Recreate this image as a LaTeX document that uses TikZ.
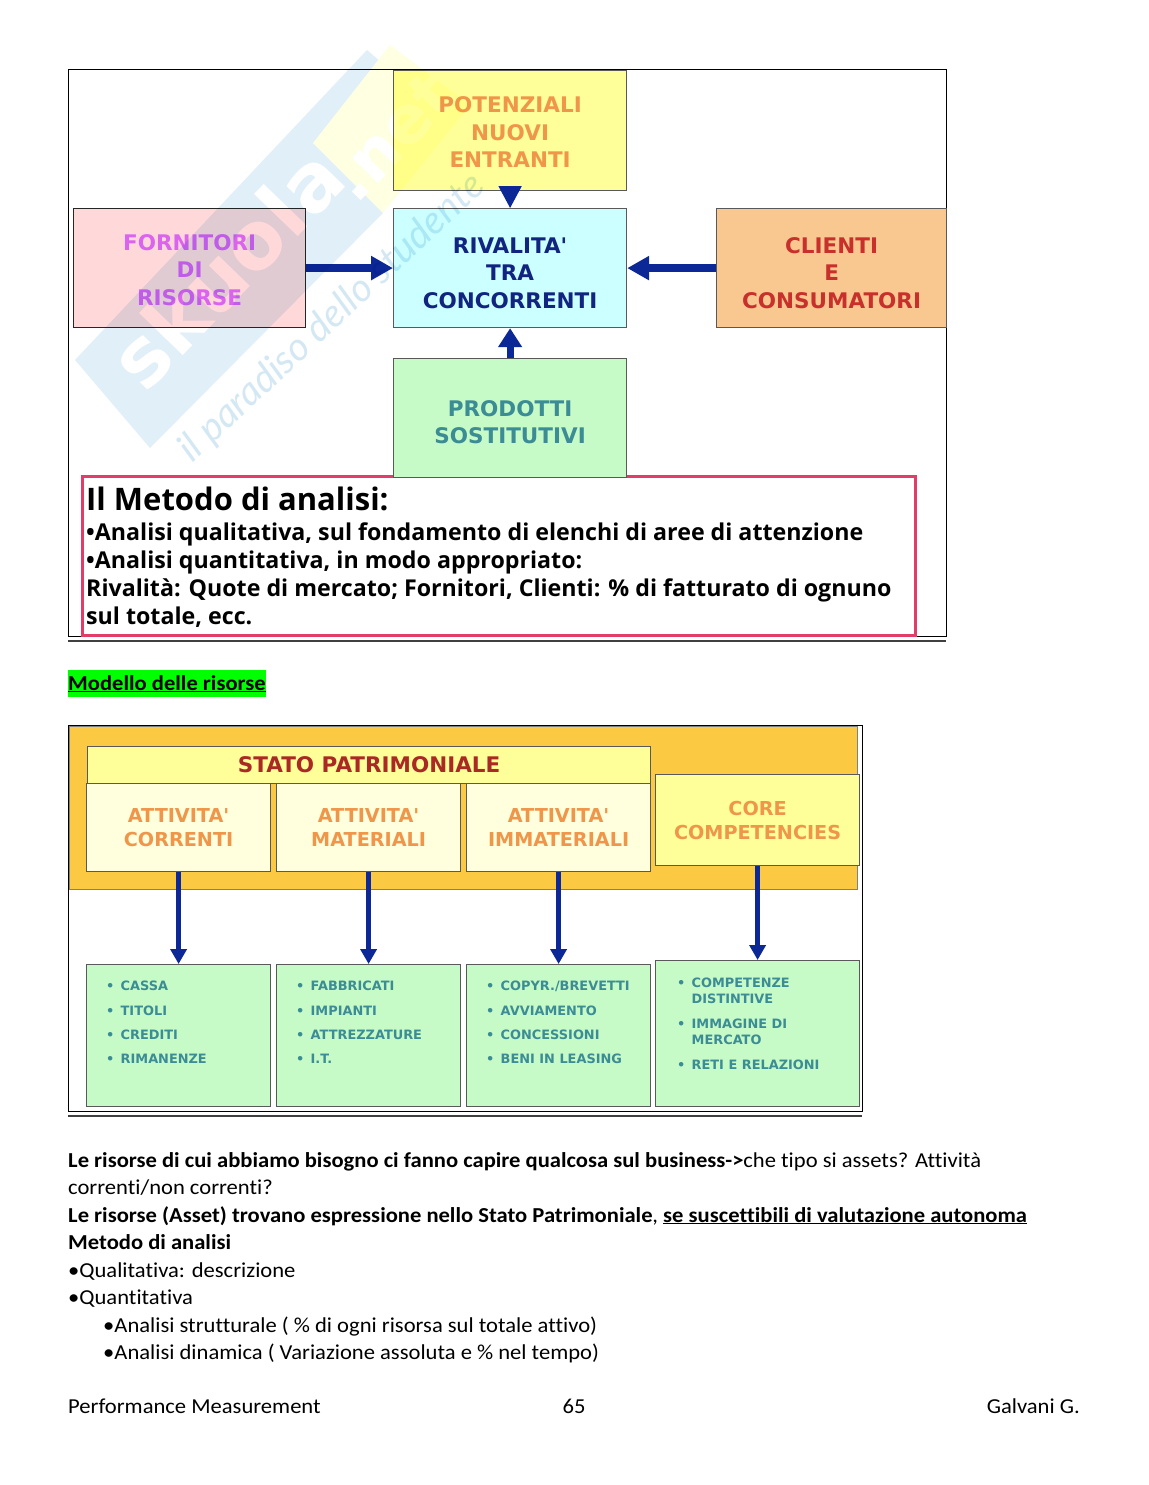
\documentclass[tikz,border=0pt]{standalone}
\usepackage{fontspec}
\setmainfont[FakeStretch=1.06,Ligatures=NoCommon]{Carlito}
\newfontfamily\boxfont{DejaVu Sans}
\newfontfamily\metodofont{Open Sans}
\newfontfamily\markfont{Lato}
\usetikzlibrary{positioning, arrows.meta, calc}
\definecolor{frecciablu}{RGB}{12,40,150}
\definecolor{giallo}{RGB}{255,255,153}
\definecolor{crema}{RGB}{255,255,221}
\definecolor{ciano}{RGB}{204,255,255}
\definecolor{rosa}{RGB}{255,217,217}
\definecolor{pesca}{RGB}{249,200,145}
\definecolor{verde}{RGB}{198,250,198}
\definecolor{oro}{RGB}{251,201,66}
\definecolor{arancio}{RGB}{240,150,75}
\definecolor{magenta}{RGB}{218,100,240}
\definecolor{blu}{RGB}{16,36,128}
\definecolor{rosso}{RGB}{200,48,44}
\definecolor{teal}{RGB}{60,140,150}
\definecolor{cremisi}{RGB}{226,60,105}
\definecolor{filigrana}{RGB}{224,239,248}
\definecolor{filimotto}{RGB}{212,232,244}
\definecolor{filigiallo}{RGB}{255,255,225}
\newcommand{\voce}[1]{\makebox[14.5pt][l]{\textbullet}#1}
\newcommand{\rigo}[1]{\hspace*{14.5pt}#1}
\newcommand{\giu}[1]{\rule{0pt}{#1pt}}

\begin{document}
\begin{tikzpicture}[
	x=1pt, y=-1pt,
	box/.style={draw=black!65, line width=1.2pt, inner sep=0pt, align=center, anchor=north west,
		font=\boxfont\bfseries\fontsize{21.5}{27.5}\selectfont},
	piccolo/.style={box, font=\boxfont\bfseries\fontsize{19.2}{24}\selectfont, text=arancio},
	lista/.style={box, fill=verde},
	voci/.style={inner sep=0pt, anchor=north west, align=left, text=teal,
		font=\boxfont\bfseries\fontsize{12.9}{24.4}\selectfont},
	cornice/.style={draw=black, line width=1.3pt},
	doppia/.style={draw=black!75, line width=2pt},
	riga/.style={inner sep=0pt, anchor=base west, font=\fontsize{21.3}{27}\selectfont},
	metodo/.style={inner sep=0pt, anchor=base west, font=\metodofont\bfseries\fontsize{23.2}{28}\selectfont},
	freccia/.style={-{Triangle[length=22pt, width=23pt]}, line width=8pt, frecciablu},
	freccina/.style={-{Triangle[length=15pt, width=16pt]}, line width=5pt, frecciablu}
	]

	\useasboundingbox (0,0) rectangle (1148,1485);

	% First figure
	\node[cornice, anchor=north west, minimum width=878pt, minimum height=567pt, inner sep=0pt] (cornice1) at (68,69) {};
	\coordinate (sotto1a) at (68,641);
	\coordinate (sotto1b) at (946,641);
	\draw[doppia] (sotto1a) -- (sotto1b);

	% Method box
	\node[draw=cremisi, line width=3pt, fill=white, anchor=north west, minimum width=833pt, minimum height=159pt, inner sep=0pt] (metodobox) at (81,475) {};
	\node[metodo, font=\metodofont\bfseries\fontsize{31}{32}\selectfont] (titolo) at (86,510) {Il Metodo di analisi:};
	\node[metodo] (m1) at (86,540) {•Analisi qualitativa, sul fondamento di elenchi di aree di attenzione};
	\node[metodo] (m2) at (86,568) {•Analisi quantitativa, in modo appropriato:};
	\node[metodo] (m3) at (86,596) {Rivalità: Quote di mercato; Fornitori, Clienti: \% di fatturato di ognuno};
	\node[metodo] (m4) at (86,624) {sul totale, ecc.};

	% Nodes
	\node[box, fill=giallo, text=arancio, minimum width=233pt, minimum height=120pt] (nuovi) at (393,70) {\giu{19}POTENZIALI\\NUOVI\\ENTRANTI};
	\node[box, fill=ciano, text=blu, minimum width=233pt, minimum height=119pt] (rivalita) at (393,208) {\giu{26}RIVALITA'\\TRA\\CONCORRENTI};
	\node[box, fill=rosa, text=magenta, draw=black!85, minimum width=232pt, minimum height=119pt] (fornitori) at (73,208) {\giu{20}FORNITORI\\DI\\RISORSE};
	\node[box, fill=pesca, text=rosso, minimum width=230pt, minimum height=119pt] (clienti) at (716,208) {\giu{26}CLIENTI\\E\\CONSUMATORI};
	\node[box, fill=verde, text=teal, minimum width=233pt, minimum height=119pt] (sostituti) at (393,358) {\giu{24}PRODOTTI\\SOSTITUTIVI};

	% Arrows
	\draw[freccia, line width=2pt] ([yshift=5pt]nuovi.south) -- (rivalita.north);
	\draw[freccia] (fornitori) -- (rivalita);
	\draw[freccia] (clienti) -- (rivalita);
	\draw[freccia, -{Triangle[length=19pt, width=23pt]}, line width=7pt] (sostituti) -- (rivalita);

	% Watermark
	\begin{scope}[transparency group, blend mode=multiply]
		\fill[filigrana] (75,360) -- (367,50) -- (388,68) -- (313,143) -- (383,213) -- (150,448) -- cycle;
		\fill[filigiallo] (390,45) -- (313,143) -- (383,213) -- (470,105) -- cycle;
		\node[rotate=46, text=white, font=\boxfont\bfseries\fontsize{80}{80}\selectfont, inner sep=0pt] (skuola) at (226,268) {skuola};
		\node[rotate=46, text=white, font=\boxfont\bfseries\fontsize{66}{66}\selectfont, inner sep=0pt] (punto) at (392,136) {.net};
		\node[rotate=43, text=filimotto, font=\markfont\itshape\fontsize{39}{39}\selectfont, inner sep=0pt] (motto) at (332,318) {il paradiso dello studente};
	\end{scope}

	% Heading
	\node[riga, font=\bfseries\fontsize{21.3}{27}\selectfont, fill=green, minimum width=197pt, minimum height=27pt, anchor=north west] (modello) at (68,670) {\underline{Modello delle risorse}};

	% Second figure
	\node[cornice, anchor=north west, minimum width=794pt, minimum height=386pt, inner sep=0pt] (cornice2) at (68,725) {};
	\coordinate (sotto2a) at (68,1116);
	\coordinate (sotto2b) at (862,1116);
	\draw[doppia] (sotto2a) -- (sotto2b);

	\node[draw=black!50, fill=oro, anchor=north west, minimum width=788pt, minimum height=163pt, inner sep=0pt] (fascia) at (69,726) {};
	\node[box, fill=giallo, text=rosso!85!black, minimum width=563pt, minimum height=37pt] (stato) at (87,746) {STATO PATRIMONIALE};
	\node[piccolo, fill=crema, minimum width=184pt, minimum height=88pt] (correnti) at (86,783) {ATTIVITA'\\CORRENTI};
	\node[piccolo, fill=crema, minimum width=184pt, minimum height=88pt] (materiali) at (276,783) {ATTIVITA'\\MATERIALI};
	\node[piccolo, fill=crema, minimum width=184pt, minimum height=88pt] (immateriali) at (466,783) {ATTIVITA'\\IMMATERIALI};
	\node[piccolo, fill=giallo, minimum width=204pt, minimum height=91pt] (core) at (655,774) {CORE\\COMPETENCIES};

	\node[lista, minimum width=184pt, minimum height=142pt] (cassa) at (86,964) {};
	\node[lista, minimum width=184pt, minimum height=142pt] (fabbricati) at (276,964) {};
	\node[lista, minimum width=184pt, minimum height=142pt] (copyright) at (466,964) {};
	\node[lista, minimum width=204pt, minimum height=146pt] (competenze) at (655,960) {};

	\node[voci] (vcassa) at (106,981) {\voce{CASSA}\\\voce{TITOLI}\\\voce{CREDITI}\\\voce{RIMANENZE}};
	\node[voci] (vfabbricati) at (296,981) {\voce{FABBRICATI}\\\voce{IMPIANTI}\\\voce{ATTREZZATURE}\\\voce{I.T.}};
	\node[voci] (vcopyright) at (486,981) {\voce{COPYR./BREVETTI}\\\voce{AVVIAMENTO}\\\voce{CONCESSIONI}\\\voce{BENI IN LEASING}};
	\node[voci] (vcompetenze) at (677,978) {\voce{COMPETENZE}\\[-8.4pt]\rigo{DISTINTIVE}\\[0.8pt]\voce{IMMAGINE DI}\\[-8.4pt]\rigo{MERCATO}\\\voce{RETI E RELAZIONI}};

	\draw[freccina] (correnti) -- (cassa);
	\draw[freccina] (materiali) -- (fabbricati);
	\draw[freccina] (immateriali) -- (copyright);
	\draw[freccina] (core) -- (competenze);

	% Text below
	\node[riga] (t1) at (68,1167) {\textbf{Le risorse di cui abbiamo bisogno ci fanno capire qualcosa sul business->}che tipo si assets? Attività};
	\node[riga] (t2) at (68,1194) {correnti/non correnti?};
	\node[riga] (t3) at (68,1222) {\textbf{Le risorse (Asset) trovano espressione nello Stato Patrimoniale}, \textbf{\underline{se suscettibili di valutazione autonoma}}};
	\node[riga] (t4) at (68,1249) {\textbf{Metodo di analisi}};
	\node[riga] (t5) at (68,1277) {•Qualitativa: descrizione};
	\node[riga] (t6) at (68,1304) {•Quantitativa};
	\node[riga] (t7) at (103,1332) {•Analisi strutturale ( \% di ogni risorsa sul totale attivo)};
	\node[riga] (t8) at (103,1359) {•Analisi dinamica ( Variazione assoluta e \% nel tempo)};

	% Footer
	\node[riga] (piede1) at (68,1413) {Performance Measurement};
	\node[riga, anchor=base] (piede2) at (574,1413) {65};
	\node[riga, anchor=base east] (piede3) at (1080,1413) {Galvani G.};

\end{tikzpicture}
\end{document}
